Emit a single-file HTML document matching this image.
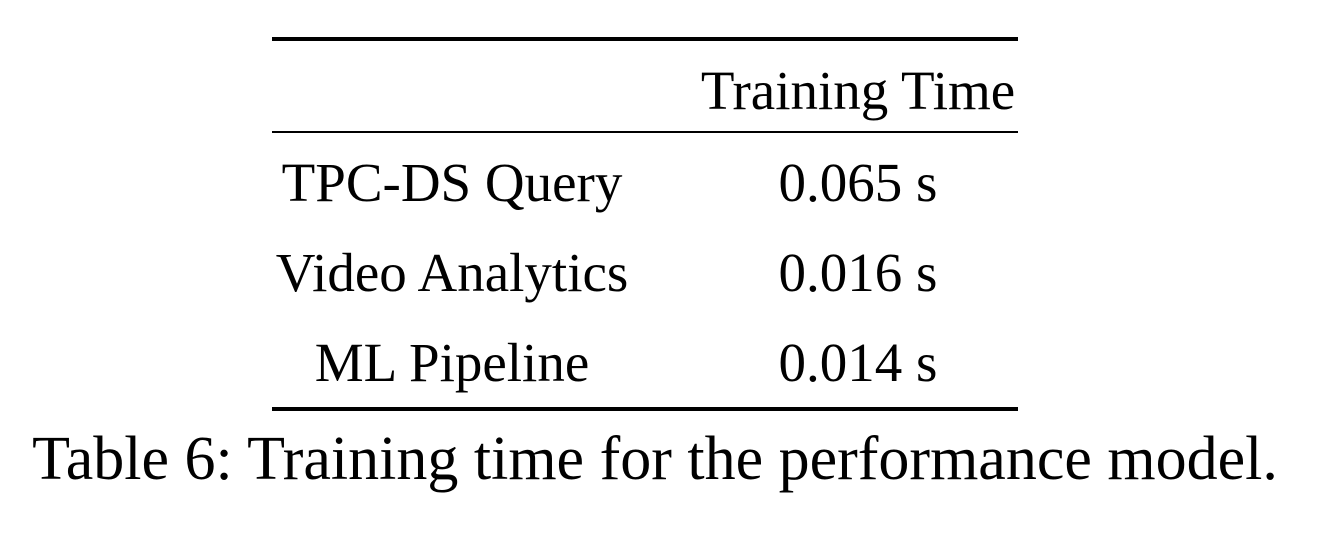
<!DOCTYPE html>
<html><head><meta charset="utf-8"><style>
html,body{margin:0;padding:0;background:#fff;width:1330px;height:538px;overflow:hidden;}
body{position:relative;font-family:"Liberation Serif",serif;color:#000;}
.r{position:absolute;background:#000;left:272px;width:746px;}
.t{position:absolute;font-size:55px;line-height:1;white-space:nowrap;transform:translateX(-50%);}
</style></head><body>
<div class="r" style="top:37px;height:4px;"></div>
<div class="t" style="left:858px;top:63px;">Training Time</div>
<div class="r" style="top:131px;height:2px;"></div>
<div class="t" style="left:452px;top:155px;">TPC-DS Query</div>
<div class="t" style="left:858px;top:155px;">0.065 s</div>
<div class="t" style="left:452px;top:245px;">Video Analytics</div>
<div class="t" style="left:858px;top:245px;">0.016 s</div>
<div class="t" style="left:452px;top:335px;">ML Pipeline</div>
<div class="t" style="left:858px;top:335px;">0.014 s</div>
<div class="r" style="top:407px;height:4px;"></div>
<div class="t" style="left:655px;top:428px;font-size:62px;">Table 6: Training time for the performance model.</div>
</body></html>
